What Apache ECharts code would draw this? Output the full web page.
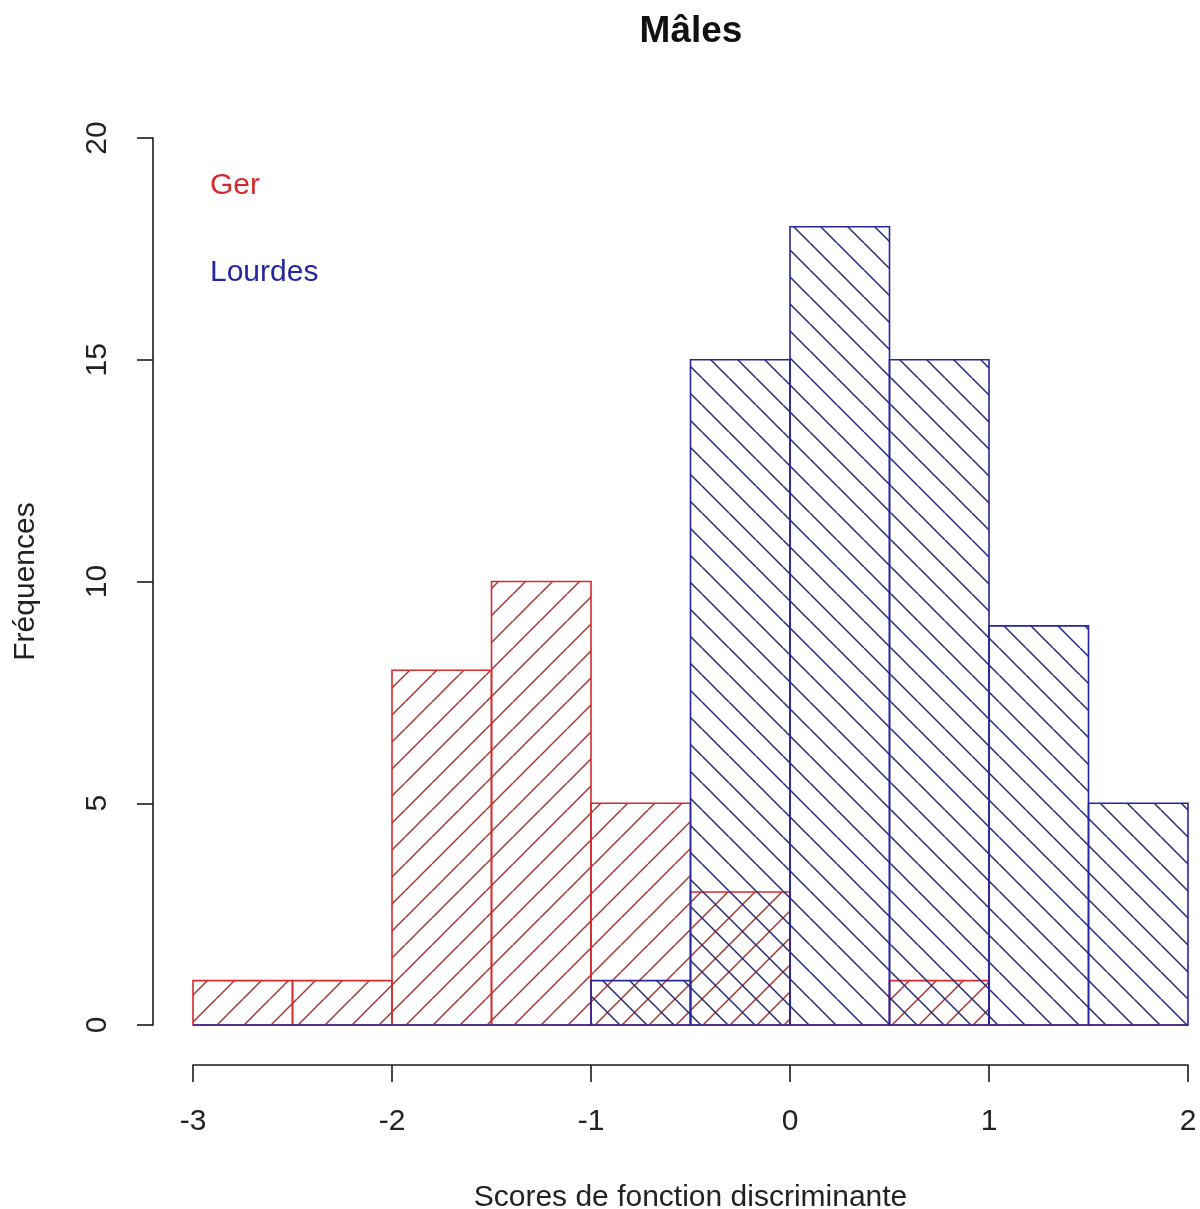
<!DOCTYPE html>
<html>
<head>
<meta charset="utf-8">
<script src="https://cdn.jsdelivr.net/npm/echarts@6/dist/echarts.min.js"></script>
<style>
  html, body { margin: 0; padding: 0; background: #ffffff; }
  #chart { width: 1200px; height: 1209px; }
</style>
</head>
<body>
<div id="chart"></div>
<script>
// Histogram breaks (bin width 0.5) and counts per group
const breaks = [-3, -2.5, -2, -1.5, -1, -0.5, 0, 0.5, 1, 1.5, 2];
const gerCounts = [1, 1, 8, 10, 5, 3, 0, 1, 0, 0];
const lourdesCounts = [0, 0, 0, 0, 1, 15, 18, 15, 9, 5];
const xTicks = [-3, -2, -1, 0, 1, 2];
const yTicks = [0, 5, 10, 15, 20];

const RED = '#d42a2e';
const RED_HATCH = '#a83535';
const BLUE = '#2626a0';
const BLUE_HATCH = '#252878';
const FONT = '"Liberation Sans", Arial, sans-serif';

// Diagonal hatch tile; dir = 1 for "/", -1 for "\"
function hatchPattern(color, dir) {
  const s = 27;
  const c = document.createElement('canvas');
  c.width = s; c.height = s;
  const g = c.getContext('2d');
  g.strokeStyle = color;
  g.lineWidth = 1.5;
  for (let k = -1; k <= 1; k++) {
    g.beginPath();
    if (dir > 0) { g.moveTo(k * s, s); g.lineTo(k * s + s, 0); }
    else { g.moveTo(k * s, 0); g.lineTo(k * s + s, s); }
    g.stroke();
  }
  return { image: c, repeat: 'repeat' };
}

function binData(counts) {
  return counts.map((v, i) => [breaks[i], breaks[i + 1], v]);
}

function histSeries(name, counts, stroke, pattern) {
  return {
    name: name,
    type: 'custom',
    data: binData(counts),
    encode: { x: [0, 1], y: 2 },
    renderItem: function (params, api) {
      const p0 = api.coord([api.value(0), api.value(2)]);
      const p1 = api.coord([api.value(1), 0]);
      return {
        type: 'rect',
        shape: { x: p0[0], y: p0[1], width: p1[0] - p0[0], height: p1[1] - p0[1] },
        style: { fill: pattern, stroke: stroke, lineWidth: 1.6 }
      };
    }
  };
}

const chart = echarts.init(document.getElementById('chart'), null, { renderer: 'canvas' });

const axisLineStyle = { color: '#1a1a1a', width: 1.6 };

chart.setOption({
  animation: false,
  backgroundColor: '#ffffff',
  title: {
    text: 'Mâles',
    left: 686,
    textAlign: 'center',
    top: 8,
    textStyle: { fontFamily: FONT, fontSize: 37, fontWeight: 'bold', color: '#111' }
  },
  legend: {
    left: 200,
    top: 166,
    orient: 'vertical',
    itemWidth: 0,
    itemHeight: 30,
    itemGap: 57,
    selectedMode: false,
    data: [
      { name: 'Ger', icon: 'none', textStyle: { color: RED } },
      { name: 'Lourdes', icon: 'none', textStyle: { color: BLUE } }
    ],
    textStyle: { fontFamily: FONT, fontSize: 30 }
  },
  grid: { left: 193, right: 12, top: 138, bottom: 184, containLabel: false, outerBoundsMode: 'none' },
  xAxis: {
    type: 'value',
    min: xTicks[0],
    max: xTicks[xTicks.length - 1],
    interval: 1,
    offset: 40,
    name: 'Scores de fonction discriminante',
    nameLocation: 'middle',
    nameGap: 118,
    nameTextStyle: { fontFamily: FONT, fontSize: 30, color: '#222' },
    axisLine: { show: true, onZero: false, lineStyle: axisLineStyle },
    axisTick: { show: true, length: 17, lineStyle: axisLineStyle },
    axisLabel: { fontFamily: FONT, fontSize: 30, color: '#222', margin: 42 },
    splitLine: { show: false }
  },
  yAxis: {
    type: 'value',
    min: yTicks[0],
    max: yTicks[yTicks.length - 1],
    interval: 5,
    offset: 40,
    name: 'Fréquences',
    nameLocation: 'middle',
    nameGap: 112,
    nameTextStyle: { fontFamily: FONT, fontSize: 30, color: '#222' },
    axisLine: { show: true, onZero: false, lineStyle: axisLineStyle },
    axisTick: { show: true, length: 16, lineStyle: axisLineStyle },
    axisLabel: { fontFamily: FONT, fontSize: 30, color: '#222', rotate: 90, margin: 40 },
    splitLine: { show: false }
  },
  series: [
    histSeries('Ger', gerCounts, RED, hatchPattern(RED_HATCH, 1)),
    histSeries('Lourdes', lourdesCounts, BLUE, hatchPattern(BLUE_HATCH, -1))
  ]
});
</script>
</body>
</html>
